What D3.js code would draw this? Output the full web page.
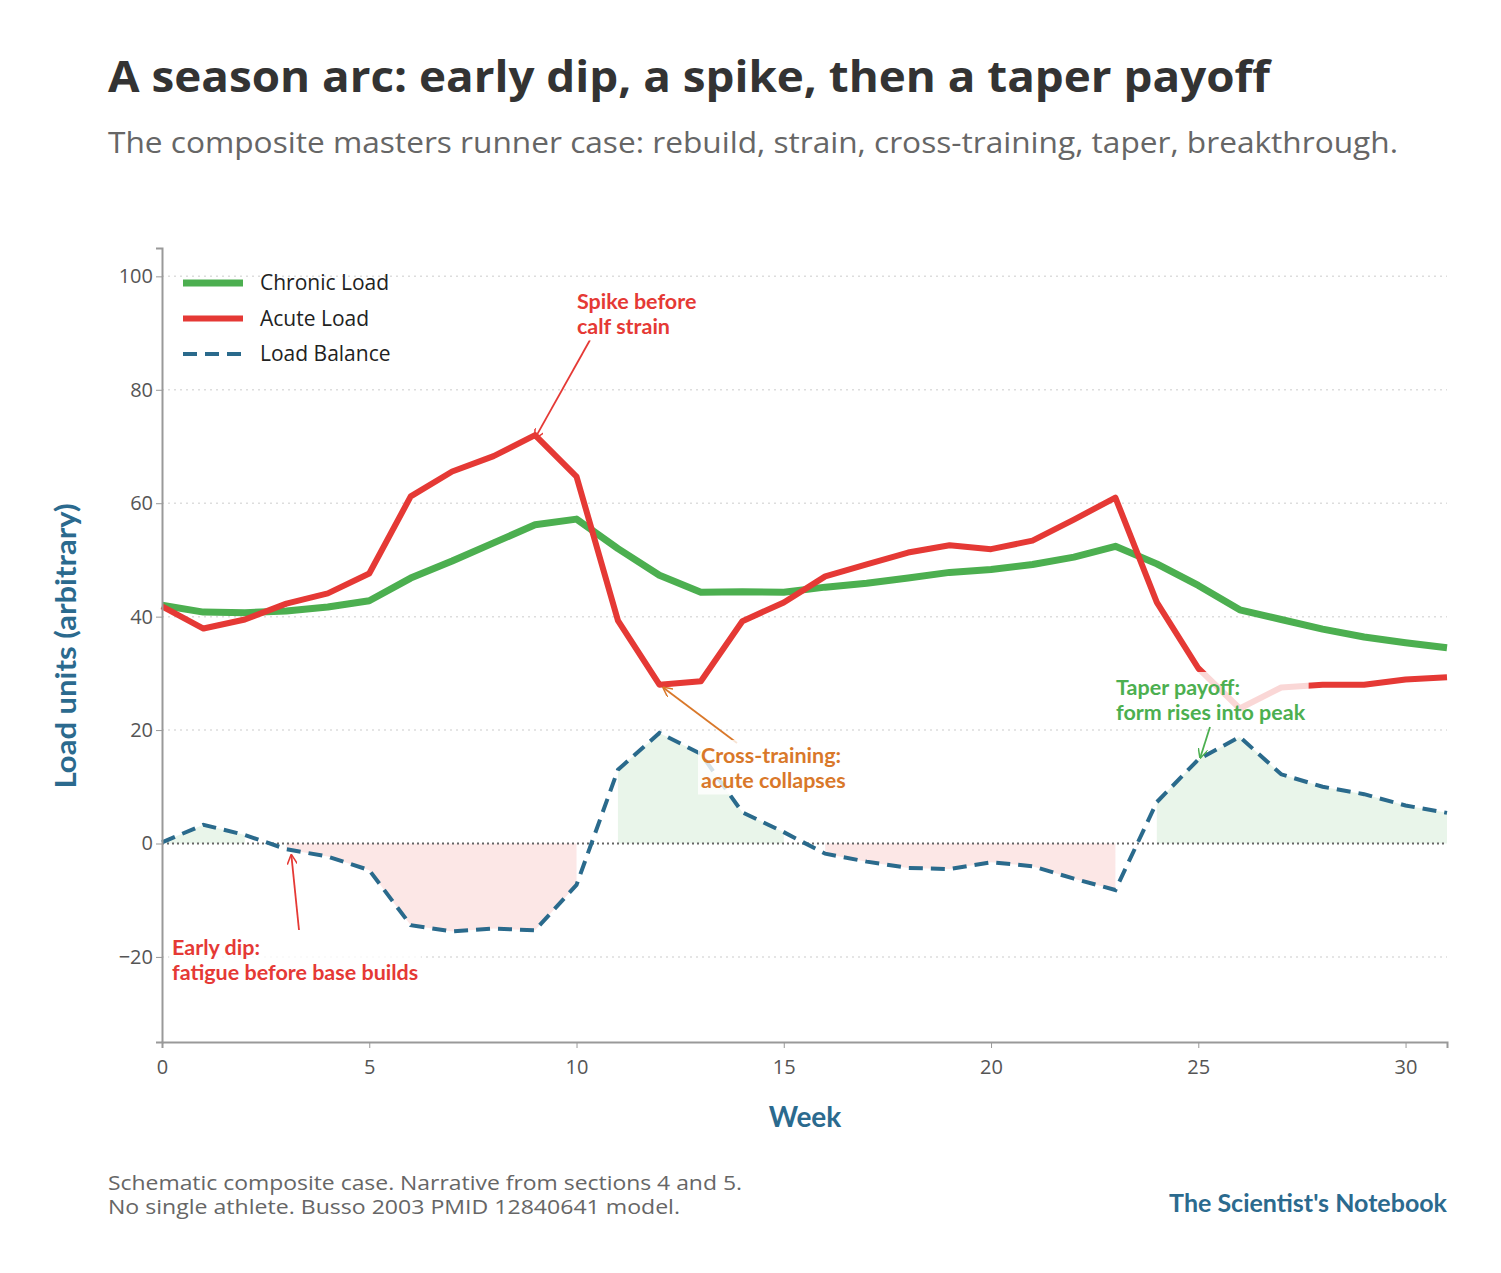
<!DOCTYPE html>
<html><head><meta charset="utf-8">
<script src="https://cdn.jsdelivr.net/npm/d3@7"></script>
<style>body{margin:0;background:#fff;font-family:"Open Sans",sans-serif;}</style>
</head><body><div id="chart"></div>
<script>
var weeks = d3.range(0, 32);
var chronic = [42,40.8,40.7,41,41.7,42.8,46.8,49.8,53,56.2,57.2,52,47.3,44.3,44.4,44.3,45.2,45.9,46.8,47.8,48.3,49.2,50.5,52.4,49.3,45.5,41.2,39.5,37.8,36.4,35.4,34.5];
var acute = [41.8,37.9,39.5,42.3,44.1,47.6,61.2,65.6,68.3,72,64.7,39.3,28,28.6,39.2,42.5,47.1,49.2,51.3,52.6,51.9,53.4,57.1,61,42.5,30.9,23.8,27.5,28,28,28.9,29.3];
var balance = [0.2,3.3,1.5,-1,-2.3,-4.7,-14.4,-15.5,-15,-15.3,-7.3,13,19.5,15.8,5.5,2,-1.8,-3.2,-4.3,-4.5,-3.3,-4,-6.2,-8.2,7.3,14.8,18.8,12.2,10,8.7,6.7,5.4];
var yTicks = [-20,0,20,40,60,80,100];
var xTicks = [0,5,10,15,20,25,30];

var W = 1501, H = 1273;
var m = {left:162, right:1447, top:248, bottom:1042};
var svg = d3.select('#chart').append('svg').attr('width', W).attr('height', H);

var x = d3.scaleLinear().domain([0,31]).range([m.left, m.right]);
var y = d3.scaleLinear().domain([-35,105]).range([m.bottom, m.top]);

svg.append('text').attr('x',108).attr('y',92).attr('font-size',43).attr('font-weight',700)
  .attr('fill','#333').attr('textLength',1162).attr('lengthAdjust','spacingAndGlyphs')
  .text('A season arc: early dip, a spike, then a taper payoff');
svg.append('text').attr('x',108).attr('y',153).attr('font-size',30).attr('fill','#666')
  .attr('textLength',1290).attr('lengthAdjust','spacingAndGlyphs')
  .text('The composite masters runner case: rebuild, strain, cross-training, taper, breakthrough.');

// grid
svg.append('g').selectAll('line').data(yTicks.filter(function(d){return d!==0;})).enter().append('line')
  .attr('x1',m.left).attr('x2',m.right).attr('y1',function(d){return y(d);}).attr('y2',function(d){return y(d);})
  .attr('stroke','#ddd').attr('stroke-width',1.5).attr('stroke-dasharray','2,4');

// fills
var pos = d3.area().defined(function(d){return d[1] >= 0;})
  .x(function(d){return x(d[0]);}).y0(y(0)).y1(function(d){return y(d[1]);});
var neg = d3.area().defined(function(d){return d[1] < 0;})
  .x(function(d){return x(d[0]);}).y0(y(0)).y1(function(d){return y(d[1]);});
var bal = weeks.map(function(w,i){return [w, balance[i]];});
svg.append('path').attr('d', pos(bal)).attr('fill','#4caf50').attr('opacity',0.12);
svg.append('path').attr('d', neg(bal)).attr('fill','#e53935').attr('opacity',0.12);

svg.append('line').attr('x1',m.left).attr('x2',m.right).attr('y1',y(0)).attr('y2',y(0))
  .attr('stroke','#666').attr('stroke-width',2).attr('stroke-dasharray','2,3');

var line = d3.line().x(function(d,i){return x(weeks[i]);}).y(function(d){return y(d);});
svg.append('path').attr('d', line(chronic)).attr('fill','none').attr('stroke','#4caf50').attr('stroke-width',7).attr('stroke-linejoin','round');
svg.append('path').attr('d', line(acute)).attr('fill','none').attr('stroke','#e53935').attr('stroke-width',6).attr('stroke-linejoin','round');
svg.append('path').attr('d', line(balance)).attr('fill','none').attr('stroke','#2a6a8c').attr('stroke-width',4).attr('stroke-dasharray','14,8');

// axes
var ax = svg.append('g').attr('transform','translate(0,'+m.bottom+')')
  .call(d3.axisBottom(x).tickValues(xTicks).tickSize(6).tickFormat(d3.format('d')));
var ay = svg.append('g').attr('transform','translate('+m.left+',0)')
  .call(d3.axisLeft(y).tickValues(yTicks).tickSize(6).tickFormat(function(d){return d<0?'\u2212'+(-d):d;}));
[ax, ay].forEach(function(a){
  a.select('.domain').attr('stroke','#999').attr('stroke-width',2);
  a.selectAll('.tick line').attr('stroke','#999');
  a.selectAll('text').attr('font-size',20).attr('fill','#555').attr('font-family','Open Sans');
});
ax.selectAll('text').attr('dy','1.15em');
svg.append('text').attr('x',805).attr('y',1127).attr('text-anchor','middle').attr('font-size',28)
  .attr('font-weight',700).attr('fill','#2b6a8e').attr('font-family','Lato').text('Week');
svg.append('text').attr('transform','translate(76,646) rotate(-90)').attr('text-anchor','middle')
  .attr('font-size',28).attr('font-weight',700).attr('fill','#2b6a8e').attr('font-family','Lato')
  .attr('textLength',285).attr('lengthAdjust','spacingAndGlyphs').text('Load units (arbitrary)');

// legend
var leg = [['Chronic Load','#4caf50',7,null],['Acute Load','#e53935',6,null],['Load Balance','#2a6a8c',4,'14,8']];
leg.forEach(function(l,i){
  var yy = 283 + i*35.5;
  svg.append('line').attr('x1',183).attr('x2',243).attr('y1',yy).attr('y2',yy).attr('stroke',l[1])
    .attr('stroke-width',l[2]).attr('stroke-dasharray',l[3]);
  svg.append('text').attr('x',260).attr('y',yy+7).attr('font-size',21).attr('fill','#222').text(l[0]);
});

// annotations
svg.append('defs').selectAll('marker').data([['r','#e53935'],['o','#d9782a'],['g','#4caf50']]).enter()
  .append('marker').attr('id',function(d){return 'a'+d[0];}).attr('viewBox','0 0 10 10').attr('refX',9).attr('refY',5)
  .attr('markerWidth',10).attr('markerHeight',10).attr('orient','auto-start-reverse').attr('markerUnits','userSpaceOnUse')
  .append('path').attr('d','M0,0 L10,5 L0,10').attr('fill','none').attr('stroke',function(d){return d[1];}).attr('stroke-width',1.5);
function note(lines, tx, ty, col, mk, ax1, ay1, px, py){
  svg.append('line').attr('x1',ax1).attr('y1',ay1).attr('x2',px).attr('y2',py)
    .attr('stroke',col).attr('stroke-width',1.8).attr('marker-end','url(#a'+mk+')');
  var g = svg.append('g');
  var t = g.append('text').attr('font-family','Lato').attr('font-weight',700).attr('font-size',21.5).attr('fill',col);
  lines.forEach(function(s,i){ t.append('tspan').attr('x',tx).attr('y',ty+i*24.5).text(s); });
  var b = t.node().getBBox();
  g.insert('rect','text').attr('x',b.x-3).attr('y',b.y-2).attr('width',b.width+6).attr('height',b.height+4)
    .attr('fill','#fff').attr('opacity',0.8);
}
note(['Spike before','calf strain'], 577, 309, '#e53935', 'r', 590, 340, x(9), y(acute[9])+3);
note(['Early dip:','fatigue before base builds'], 172, 955, '#e53935', 'r', 299, 930, x(3)+5, y(balance[3])+6);
note(['Cross-training:','acute collapses'], 701, 763, '#d9782a', 'o', 737, 743, x(12)+4, y(acute[12])+3);
note(['Taper payoff:','form rises into peak'], 1116, 695, '#4caf50', 'g', 1210, 727, x(25)+2, y(balance[25])-2);

// footer
svg.append('text').attr('x',108).attr('y',1190).attr('font-size',20).attr('fill','#666')
  .attr('textLength',634).attr('lengthAdjust','spacingAndGlyphs').text('Schematic composite case. Narrative from sections 4 and 5.');
svg.append('text').attr('x',108).attr('y',1214).attr('font-size',20).attr('fill','#666')
  .attr('textLength',572).attr('lengthAdjust','spacingAndGlyphs').text('No single athlete. Busso 2003 PMID 12840641 model.');
svg.append('text').attr('x',1447).attr('y',1212).attr('text-anchor','end').attr('font-size',25).attr('font-weight',700)
  .attr('font-family','Lato').attr('fill','#2b6a8e').text("The Scientist's Notebook");
</script></body></html>
